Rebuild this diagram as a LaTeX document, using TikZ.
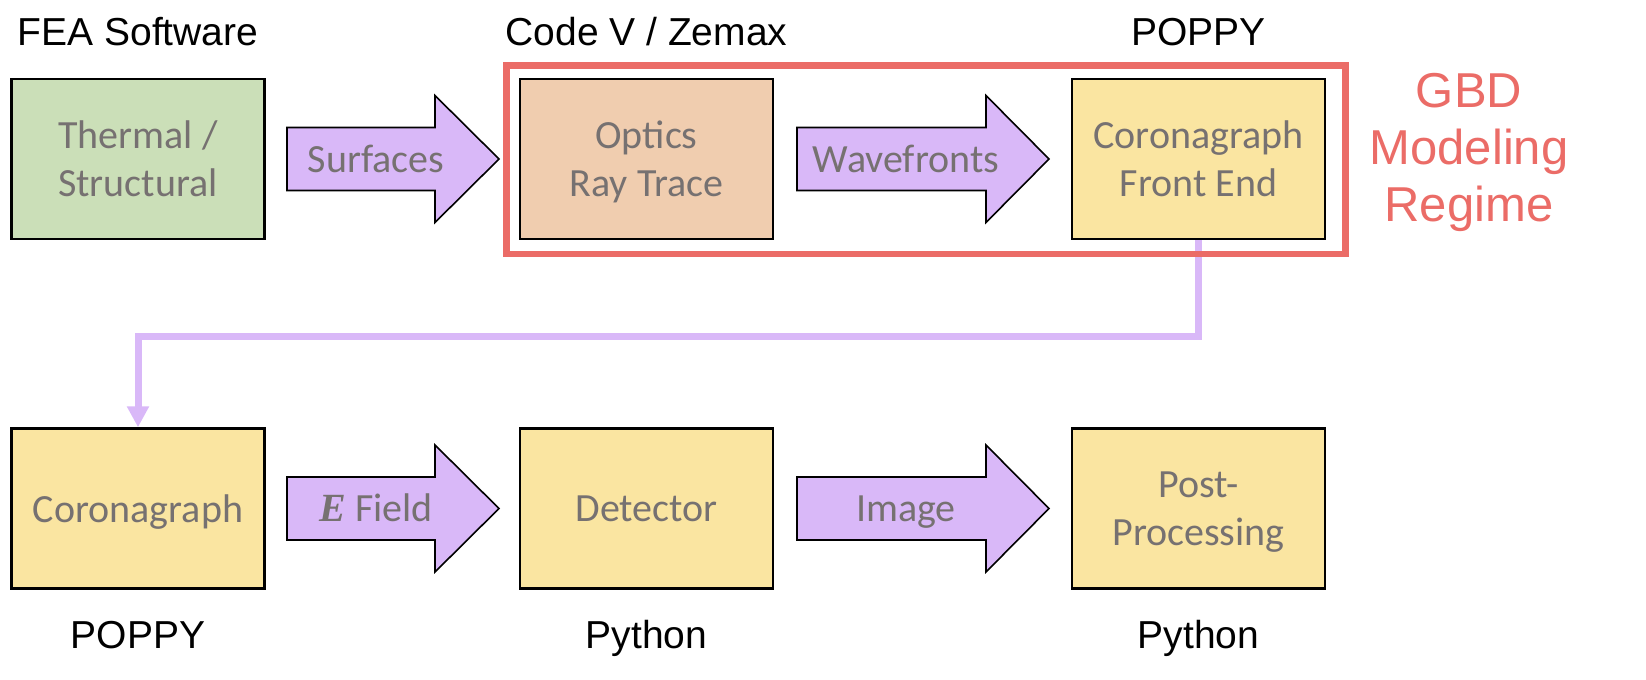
\documentclass[tikz,border=0pt]{standalone}
\usepackage{fontspec}
\setmainfont{Liberation Sans}
\newfontfamily\boxfont{Carlito}
\newfontfamily\efont{Liberation Serif}
\usetikzlibrary{arrows.meta}

\definecolor{thermalgreen}{HTML}{CBDFB8}
\definecolor{opticsorange}{HTML}{F0CDAF}
\definecolor{popyellow}{HTML}{FAE5A1}
\definecolor{flowpurple}{HTML}{D9B8F8}
\definecolor{regimered}{HTML}{EB6C67}
\definecolor{boxgray}{HTML}{767171}

\begin{document}
\begin{tikzpicture}[x=0.5pt,y=-0.5pt,
    box/.style={draw=black,line width=1.2pt,minimum width=126.5pt,minimum height=80pt,inner sep=0pt,
        align=center,text depth=0pt,text=boxgray,font=\boxfont\fontsize{20pt}{24pt}\selectfont},
    flow/.style={draw=black,line width=0.8pt,fill=flowpurple,line join=miter},
    flowlabel/.style={anchor=base,inner sep=0pt,text=boxgray,font=\boxfont\fontsize{20pt}{24pt}\selectfont},
    toolname/.style={anchor=base,inner sep=0pt,font=\fontsize{19.5pt}{24pt}\selectfont},
    link/.style={draw=flowpurple,line width=3.5pt,-{Triangle[width=10.5pt,length=10.5pt]}}]
    \useasboundingbox (0,0) rectangle (1646,680);

    % top row
    \node [box,fill=thermalgreen] (thermal) at (138,159) {Thermal /\\Structural};
    \node [box,fill=opticsorange] (optics) at (646.5,159) {Optics\\Ray Trace};
    \node [box,fill=popyellow] (frontend) at (1198.5,159) {Coronagraph\\Front End};
    \draw [flow] (287,127.5) -- (435,127.5) -- (435,95.5) -- (499,159) -- (435,222.5) -- (435,190.5) -- (287,190.5) -- cycle;
    \node [flowlabel] (surfaces) at (376,172) {Surfaces};
    \draw [flow] (797,127.5) -- (986,127.5) -- (986,95.5) -- (1049,159) -- (986,222.5) -- (986,190.5) -- (797,190.5) -- cycle;
    \node [flowlabel] (wavefronts) at (906,172) {Wavefronts};

    % bottom row
    \node [box,fill=popyellow] (corona) at (138,508.5) {Coronagraph};
    \node [box,fill=popyellow] (detector) at (646.5,508.5) {Detector};
    \node [box,fill=popyellow] (postproc) at (1198.5,508.5) {Post-\\Processing};
    \draw [flow] (287,477) -- (435,477) -- (435,445) -- (499,508.5) -- (435,572) -- (435,540) -- (287,540) -- cycle;
    \node [flowlabel] (efield) at (376,521.5) {{\efont\bfseries\itshape E} Field};
    \draw [flow] (797,477) -- (986,477) -- (986,445) -- (1049,508.5) -- (986,572) -- (986,540) -- (797,540) -- cycle;
    \node [flowlabel] (image) at (906,521.5) {Image};

    % feed from front end down to coronagraph
    \draw [link] (frontend.south) -- ++(0,96) -| (corona.north);

    % GBD regime
    \draw [regimered,line width=3.25pt] (506.5,65.5) rectangle (1345.5,254);
    \node [anchor=north,inner sep=0pt,align=center,text=regimered,font=\fontsize{24.5pt}{28.5pt}\selectfont] (regime) at (1469,73) {GBD\\Modeling\\Regime};

    % software used
    \node [toolname] (fea) at (138,46) {FEA Software};
    \node [toolname] (codev) at (646.5,46) {Code V / Zemax};
    \node [toolname] (poppytop) at (1198.5,46) {POPPY};
    \node [toolname] (poppybottom) at (138,648) {POPPY};
    \node [toolname] (pydetector) at (646.5,648) {Python};
    \node [toolname] (pypost) at (1198.5,648) {Python};
\end{tikzpicture}
\end{document}
